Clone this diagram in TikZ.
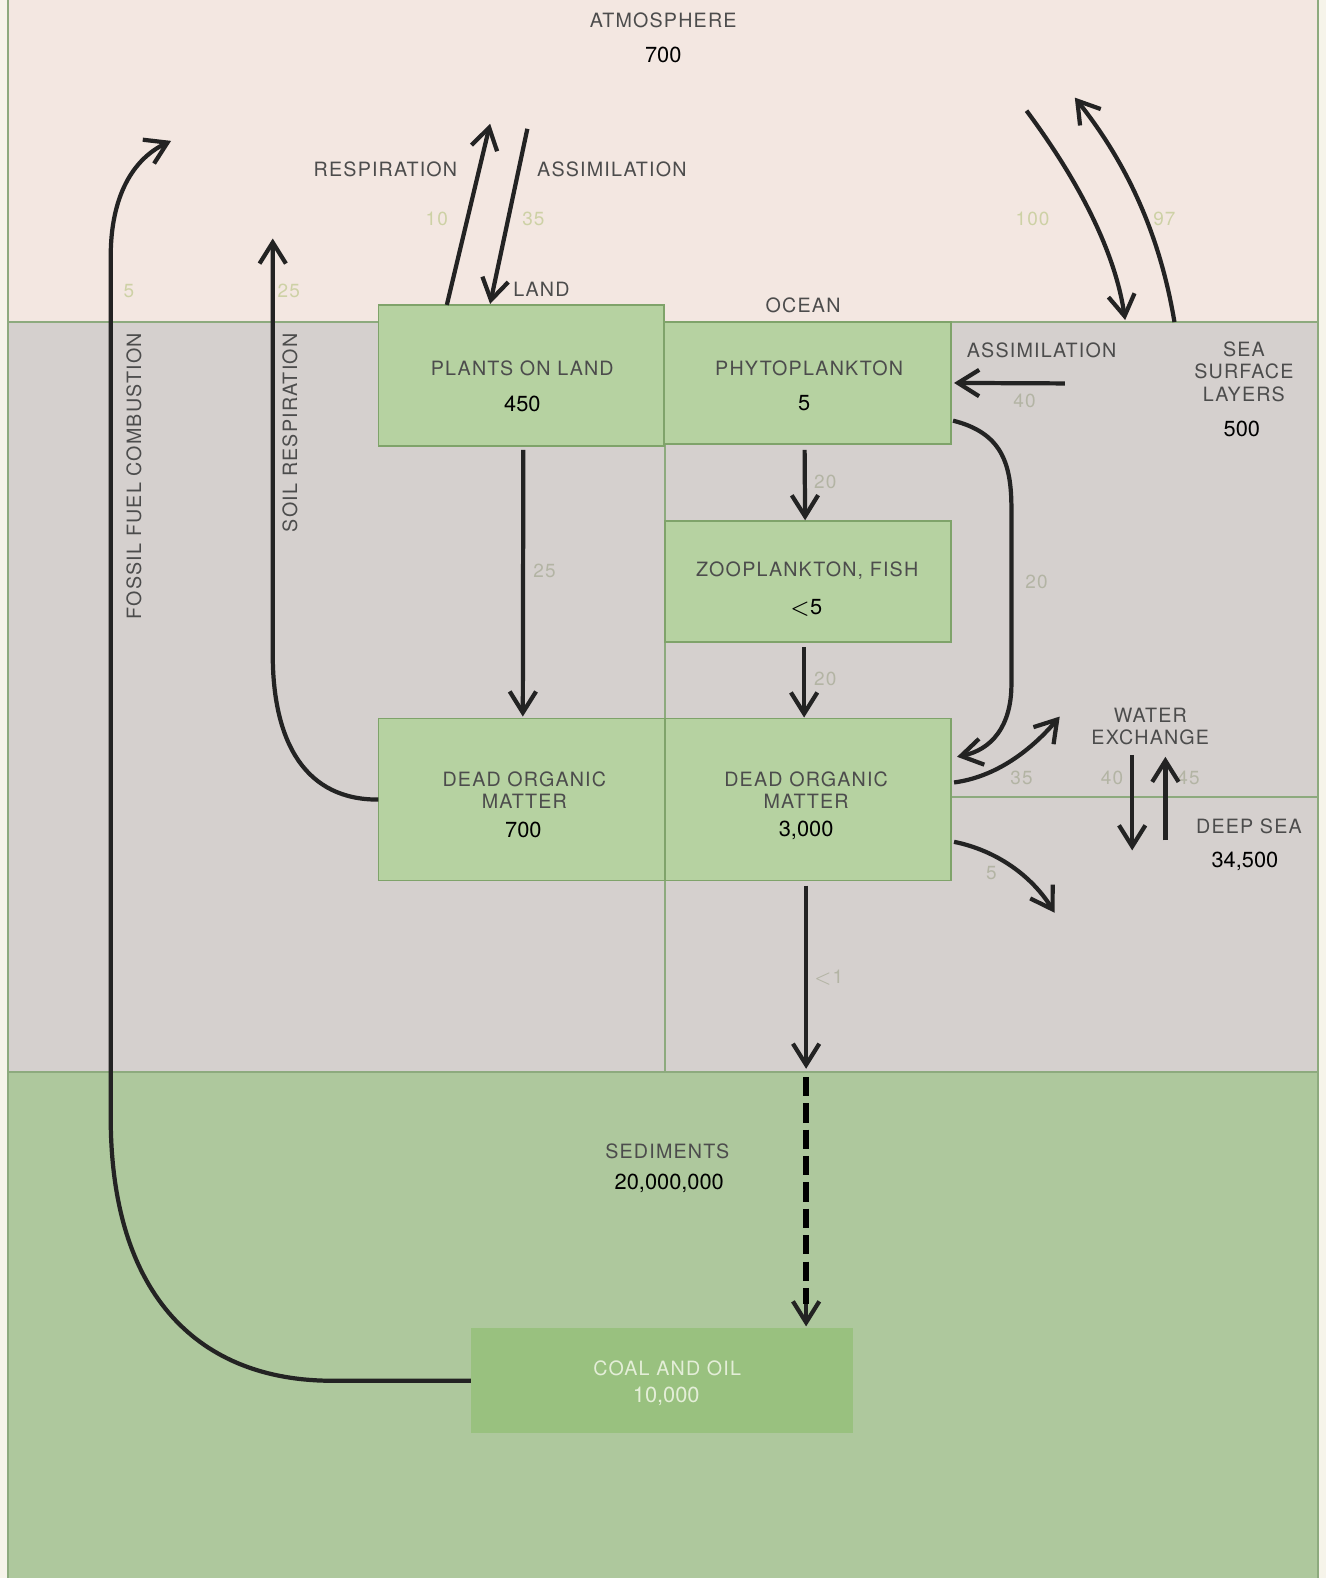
\documentclass[tikz,border=0pt]{standalone}
\usepackage{fontspec}
\setmainfont{TeX Gyre Heros}[LetterSpace=6]
\newfontfamily\numfont{TeX Gyre Heros}
\usetikzlibrary{arrows.meta,calc,fit}
\definecolor{margin}{HTML}{F6F4EA}
\definecolor{atmc}{HTML}{F3E7E1}
\definecolor{grayc}{HTML}{D5D0CE}
\definecolor{sedc}{HTML}{AEC89D}
\definecolor{boxc}{HTML}{B6D2A1}
\definecolor{boxline}{HTML}{7FA36A}
\definecolor{coalc}{HTML}{99C17F}
\definecolor{edgec}{HTML}{8DAA7E}
\definecolor{labelc}{HTML}{4C4C4C}
\definecolor{paleatm}{HTML}{CDD1A5}
\definecolor{palegray}{HTML}{B3B4A4}
\definecolor{arrc}{HTML}{232323}
\definecolor{coaltext}{HTML}{E4EED8}
\begin{document}
\begin{tikzpicture}[x=0.01006cm,y=-0.01006cm,
  every node/.style={inner sep=0pt,outer sep=0pt},
  region/.style={fit={#1},inner sep=0pt,draw=none},
  stock/.style={fit={#1},inner sep=0pt,fill=boxc,draw=boxline,line width=0.5pt},
  edgeline/.style={draw=edgec,line width=0.5pt},
  arr/.style={draw=arrc,line width=1.2pt,-{Straight Barb[length=6pt,width=7.5pt]}},
  lbl/.style={font=\fontsize{5.6}{6.4}\selectfont,text=labelc,align=center},
  num/.style={font=\numfont\fontsize{6.2}{6.4}\selectfont,text=black},
  pale/.style={font=\fontsize{5.4}{6.4}\selectfont,text=paleatm},
  paleg/.style={font=\fontsize{5.4}{6.4}\selectfont,text=palegray}]

% background and regions
\fill[margin] (0,0) rectangle (1318,1568);
\useasboundingbox (0,0) rectangle (1318,1568);
\node[region={(8,0)(1310,320)},fill=atmc] (atm) {};
\node[region={(8,320)(1310,1065)},fill=grayc] (crust) {};
\node[region={(8,1065)(1310,1568)},fill=sedc] (sed) {};

\draw[edgeline] (8,0) -- (8,1568);
\draw[edgeline] (1310,0) -- (1310,1568);
\draw[edgeline] (8,320) -- (1310,320);
\draw[edgeline] (661,320) -- (661,1065);
\draw[edgeline] (945,792) -- (1310,792);
\draw[edgeline] (8,1065) -- (1310,1065);

% stocks
\node[stock={(376,303)(660,443)}] (plants) {};
\node[stock={(660,320)(945,441)}] (phyto) {};
\node[stock={(661,518)(945,638)}] (zoo) {};
\node[stock={(376,714)(661,875)}] (doml) {};
\node[stock={(661,714)(945,875)}] (domo) {};
\node[region={(468,1320)(848,1424)},fill=coalc] (coal) {};

% texts
\node[lbl] (tAtm) at (659,20) {ATMOSPHERE};
\node[num] (nAtm) at (659,55) {700};
\node[lbl] (tResp) at (383,168) {RESPIRATION};
\node[lbl] (tAss) at (608,168) {ASSIMILATION};
\node[pale] (v10) at (434,218) {10};
\node[pale] (v35) at (530,218) {35};
\node[lbl] (tLand) at (538,287) {LAND};
\node[lbl] (tOcean) at (798,303) {OCEAN};
\node[pale] (v100) at (1026,218) {100};
\node[pale] (v97) at (1157,218) {97};
\node[pale] (v5a) at (128,289) {5};
\node[pale] (v25a) at (287,289) {25};
\node[lbl,rotate=90] (tFossil) at (133,473) {FOSSIL FUEL COMBUSTION};
\node[lbl,rotate=90] (tSoil) at (288,430) {SOIL RESPIRATION};

\node[lbl] (tPlants) at (519,366) {PLANTS ON LAND};
\node[num] (nPlants) at (519,401) {450};
\node[lbl] (tPhyto) at (804,366) {PHYTOPLANKTON};
\node[num] (nPhyto) at (799,401) {5};
\node[lbl] (tAssO) at (1035,348) {ASSIMILATION};
\node[paleg] (v40a) at (1018,398) {40};
\node[lbl] (tSea) at (1236,369) {SEA\\SURFACE\\LAYERS};
\node[num] (nSea) at (1234,426) {500};
\node[paleg] (v20a) at (820,479) {20};
\node[paleg] (v25b) at (541,567) {25};
\node[paleg] (v20b) at (1030,578) {20};
\node[paleg] (v20c) at (820,675) {20};
\node[lbl] (tZoo) at (802,567) {ZOOPLANKTON, FISH};
\node[num] (nZoo) at (801,604) {$<$5};
\node[lbl] (tWater) at (1143,722) {WATER\\EXCHANGE};
\node[paleg] (v35b) at (1015,773) {35};
\node[paleg] (v40b) at (1105,773) {40};
\node[paleg] (v45) at (1181,773) {45};
\node[lbl] (tDoml) at (521,785) {DEAD ORGANIC\\MATTER};
\node[num] (nDoml) at (520,825) {700};
\node[lbl] (tDomo) at (801,785) {DEAD ORGANIC\\MATTER};
\node[num] (nDomo) at (801,825) {3,000};
\node[lbl] (tDeep) at (1241,821) {DEEP SEA};
\node[num] (nDeep) at (1237,856) {34,500};
\node[paleg] (v5b) at (985,868) {5};
\node[paleg] (v1) at (823,971) {$<$1};
\node[lbl] (tSed) at (663,1144) {SEDIMENTS};
\node[num] (nSed) at (665,1176) {20,000,000};
\node[lbl,text=coaltext] (tCoal) at (663,1360) {COAL AND OIL};
\node[num,text=coaltext] (nCoal) at (662,1388) {10,000};

% free ends
\coordinate (ffTop) at (170,140);
\coordinate (srTop) at (271,237);
\coordinate (resTop) at (487,123);
\coordinate (assTop) at (524,128);
\coordinate (o100) at (1020,110);
\coordinate (o97) at (1068,97);
\coordinate (seaIn) at (1118,318);
\coordinate (seaOut) at (1167,320);
\coordinate (assO) at (1058,381);
\coordinate (wxTip) at (1053,712);
\coordinate (wxDown) at (1125,750);
\coordinate (wxDownEnd) at (1125,845);
\coordinate (wxUp) at (1158,835);
\coordinate (wxUpEnd) at (1158,752);
\coordinate (deepTip) at (1048,907);
\coordinate (sedTop) at (801,1062);
\coordinate (dashStart) at (801,1070);
\coordinate (dashEnd) at (801,1296);

% connectors
\draw[arr] (coal.west) -- (330,1372) .. controls (200,1372) and (110,1290) .. (110,1110)
  -- (110,255) .. controls (110,195) and (132,158) .. (ffTop);
\draw[arr] (doml.west) .. controls (305,795) and (271,740) .. (271,650) -- (srTop);
\draw[arr] ($(plants.north west)+(68,0)$) -- (resTop);
\draw[arr] (assTop) -- ($(plants.north west)+(111,-1)$);
\draw[arr] (o100) .. controls (1072,180) and (1108,250) .. (seaIn);
\draw[arr] (seaOut) .. controls (1152,230) and (1118,160) .. (o97);
\draw[arr] (assO) -- ($(phyto.east)+(3,0)$ |- assO);
\draw[arr] ($(phyto.south east)+(2,-23)$) .. controls (995,430) and (1005,460) .. (1005,505)
  -- (1005,680) .. controls (1005,722) and (985,745) .. ($(domo.north east)+(6,38)$);
\draw[arr] ($(phyto.south)+(-3,6)$) -- ($(zoo.north)+(-3,-1)$);
\draw[arr] ($(plants.south)+(2,4)$) -- ($(doml.north)+(1,-2)$);
\draw[arr] ($(zoo.south)+(-4,5)$) -- ($(domo.north)+(-4,-1)$);
\draw[arr] ($(domo.east)+(3,-17)$) .. controls (990,772) and (1025,745) .. (wxTip);
\draw[arr] (wxDown) -- (wxDownEnd);
\draw[arr] (wxUp) -- (wxUpEnd);
\draw[arr] ($(domo.east)+(3,42)$) .. controls (990,845) and (1025,870) .. (deepTip);
\draw[arr] ($(domo.south)+(-2,5)$) -- (sedTop);
\draw[draw=black,line width=1.7pt,dash pattern=on 5.5pt off 2pt] (dashStart) -- (dashEnd);
\draw[arr] (dashEnd) -- ($(coal.north)+(143,-2)$);
\end{tikzpicture}
\end{document}
